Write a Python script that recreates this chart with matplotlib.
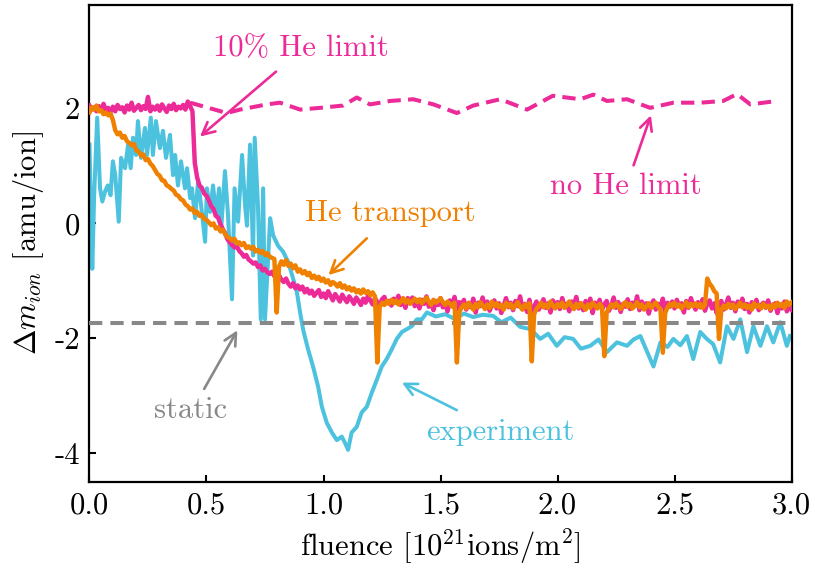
import numpy as np
import matplotlib
matplotlib.use("Agg")
import matplotlib.pyplot as plt

plt.rcParams['font.family'] = ['cmr10', 'DejaVu Serif']
plt.rcParams['mathtext.fontset'] = 'cm'
plt.rcParams['axes.unicode_minus'] = False
plt.rcParams['axes.formatter.use_mathtext'] = True

# ---------------- data ----------------
fluence_grid = np.linspace(0.0, 3.0, 301)

he_transport = [
    1.93, 2.02, 1.98, 2.05, 1.95, 1.97, 1.90, 1.93, 1.88, 1.91,
    1.80, 1.62, 1.55, 1.58, 1.49, 1.52, 1.43, 1.40, 1.36, 1.38,
    1.27, 1.25, 1.18, 1.20, 1.10, 1.12, 1.04, 1.00, 0.93, 0.86,
    0.83, 0.75, 0.74, 0.66, 0.64, 0.60, 0.57, 0.50, 0.48, 0.42,
    0.40, 0.33, 0.30, 0.24, 0.26, 0.18, 0.20, 0.13, 0.15, 0.08,
    0.06, 0.02, -0.03, 0.00, -0.09, -0.07, -0.14, -0.11, -0.19, -0.24,
    -0.26, -0.30, -0.27, -0.35, -0.33, -0.38, -0.34, -0.43, -0.40, -0.44,
    -0.41, -0.49, -0.46, -0.51, -0.48, -0.55, -0.52, -0.58, -0.60, -0.62,
    -1.55, -0.75, -0.66, -0.72, -0.64, -0.74, -0.70, -0.78, -0.73, -0.84,
    -0.80, -0.87, -0.83, -0.90, -0.86, -0.95, -0.91, -0.97, -0.93, -1.00,
    -0.96, -1.03, -0.99, -1.07, -1.02, -1.05, -1.10, -1.04, -1.12, -1.08,
    -1.15, -1.11, -1.17, -1.13, -1.20, -1.16, -1.22, -1.15, -1.21, -1.18,
    -1.25, -1.20, -1.27, -2.42, -1.45, -1.38, -1.42, -1.35, -1.40, -1.33,
    -1.39, -1.34, -1.41, -1.36, -1.30, -1.38, -1.33, -1.40, -1.35, -1.31,
    -1.37, -1.32, -1.39, -1.34, -1.29, -1.36, -1.42, -1.33, -1.38, -1.35,
    -1.30, -1.37, -1.42, -1.36, -1.40, -1.45, -1.38, -2.42, -1.55, -1.46,
    -1.41, -1.48, -1.38, -1.44, -1.50, -1.40, -1.46, -1.37, -1.43, -1.49,
    -1.41, -1.47, -1.36, -1.44, -1.39, -1.46, -1.42, -1.50, -1.38, -1.45,
    -1.40, -1.48, -1.43, -1.37, -1.45, -1.50, -1.41, -1.46, -1.39, -2.40,
    -1.58, -1.49, -1.44, -1.38, -1.46, -1.41, -1.47, -1.36, -1.43, -1.48,
    -1.40, -1.45, -1.38, -1.47, -1.42, -1.36, -1.44, -1.49, -1.40, -1.46,
    -1.39, -1.44, -1.50, -1.41, -1.47, -1.38, -1.43, -1.48, -1.40, -1.45,
    -2.31, -1.55, -1.47, -1.41, -1.46, -1.39, -1.44, -1.49, -1.42, -1.37,
    -1.45, -1.40, -1.48, -1.43, -1.37, -1.46, -1.41, -1.50, -1.44, -1.39,
    -1.47, -1.42, -1.38, -1.45, -1.49, -2.25, -1.56, -1.46, -1.40, -1.44,
    -1.38, -1.45, -1.41, -1.48, -1.43, -1.37, -1.46, -1.40, -1.44, -1.39,
    -1.45, -1.40, -1.47, -1.42, -0.96, -1.05, -1.10, -1.18, -1.22, -2.01,
    -1.50, -1.43, -1.48, -1.40, -1.46, -1.41, -1.49, -1.44, -1.38, -1.46,
    -1.41, -1.47, -1.43, -1.50, -1.39, -1.45, -1.42, -1.48, -1.40, -1.46,
    -1.43, -1.49, -1.41, -1.46, -1.38, -1.44, -1.40, -1.47, -1.36, -1.42,
    -1.38,
]

he_limit10 = [
    2.05, 1.98, 2.02, 1.95, 2.04, 1.97, 2.08, 1.96, 2.01, 1.94,
    2.03, 1.95, 2.06, 1.99, 2.02, 1.93, 2.05, 1.98, 2.10, 1.96,
    2.01, 2.06, 1.97, 2.04, 1.99, 2.20, 1.95, 2.03, 1.98, 2.05,
    1.96, 2.07, 2.00, 1.94, 2.05, 1.99, 2.08, 1.97, 2.03, 2.00,
    2.06, 1.98, 2.12, 2.04, 1.95, 1.05, 0.80, 0.66, 0.62, 0.52,
    0.48, 0.40, 0.30, 0.25, 0.13, 0.10, -0.02, -0.10, -0.18, -0.28,
    -0.33, -0.38, -0.42, -0.40, -0.48, -0.52, -0.58, -0.55, -0.63, -0.66,
    -0.70, -0.68, -0.76, -0.73, -0.82, -0.79, -0.85, -0.88, -0.84, -0.92,
    -0.95, -0.90, -0.98, -1.02, -0.96, -1.05, -1.10, -1.04, -1.13, -1.08,
    -1.15, -1.10, -1.20, -1.14, -1.22, -1.17, -1.26, -1.21, -1.16, -1.28,
    -1.22, -1.30, -1.18, -1.26, -1.34, -1.23, -1.29, -1.36, -1.24, -1.31,
    -1.37, -1.27, -1.33, -1.40, -1.29, -1.35, -1.42, -1.31, -1.38, -1.26,
    -1.34, -1.41, -1.30, -1.37, -1.44, -1.32, -1.28, -1.39, -1.35, -1.43,
    -1.31, -1.38, -1.26, -1.42, -1.34, -1.47, -1.30, -1.37, -1.29, -1.44,
    -1.36, -1.48, -1.33, -1.40, -1.27, -1.45, -1.38, -1.51, -1.35, -1.42,
    -1.30, -1.46, -1.39, -1.53, -1.34, -1.43, -1.28, -1.49, -1.37, -1.44,
    -1.33, -1.50, -1.40, -1.46, -1.31, -1.55, -1.38, -1.44, -1.29, -1.47,
    -1.36, -1.52, -1.41, -1.34, -1.48, -1.39, -1.56, -1.43, -1.30, -1.46,
    -1.38, -1.51, -1.35, -1.44, -1.27, -1.49, -1.40, -1.54, -1.33, -1.58,
    -1.45, -1.36, -1.50, -1.41, -1.32, -1.47, -1.39, -1.55, -1.34, -1.43,
    -1.37, -1.49, -1.30, -1.45, -1.40, -1.53, -1.36, -1.42, -1.28, -1.48,
    -1.39, -1.51, -1.35, -1.44, -1.31, -1.56, -1.38, -1.46, -1.33, -1.50,
    -1.41, -1.35, -1.52, -1.43, -1.29, -1.47, -1.37, -1.54, -1.40, -1.45,
    -1.32, -1.49, -1.38, -1.44, -1.27, -1.51, -1.36, -1.43, -1.39, -1.57,
    -1.42, -1.34, -1.50, -1.40, -1.46, -1.31, -1.53, -1.38, -1.45, -1.36,
    -1.48, -1.33, -1.44, -1.39, -1.55, -1.35, -1.47, -1.30, -1.42, -1.50,
    -1.37, -1.46, -1.32, -1.52, -1.40, -1.34, -1.48, -1.39, -1.56, -1.43,
    -1.35, -1.50, -1.41, -1.29, -1.47, -1.38, -1.53, -1.36, -1.44, -1.31,
    -1.49, -1.40, -1.55, -1.37, -1.45, -1.33, -1.51, -1.42, -1.38, -1.47,
    -1.34, -1.52, -1.43, -1.39, -1.56, -1.41, -1.48, -1.36, -1.53, -1.45,
    -1.50,
]

no_limit_x = [0.43, 0.587, 0.643, 0.758, 0.814, 0.90, 0.985, 1.084, 1.142,
              1.199, 1.285, 1.383, 1.47, 1.57, 1.64, 1.755, 1.87, 1.98,
              2.097, 2.153, 2.211, 2.297, 2.396, 2.495, 2.61, 2.708, 2.767,
              2.824, 2.938]
no_limit_y = [2.10, 1.92, 1.98, 2.07, 2.10, 1.98, 2.01, 2.05, 2.19,
              2.07, 2.13, 2.16, 2.07, 1.92, 2.05, 2.16, 1.98, 2.22,
              2.16, 2.24, 2.13, 2.16, 2.01, 2.10, 2.10, 2.13, 2.25,
              2.07, 2.13]

exp_x = [0.000, 0.005, 0.012, 0.020, 0.033, 0.045, 0.055, 0.066, 0.078, 0.090,
         0.100, 0.110, 0.125, 0.135, 0.152, 0.165, 0.176, 0.186, 0.199, 0.207,
         0.220, 0.237, 0.246, 0.262, 0.271, 0.284, 0.301, 0.314, 0.327, 0.344,
         0.357, 0.366, 0.378, 0.391, 0.408, 0.417, 0.430, 0.438, 0.451, 0.464,
         0.477, 0.494, 0.502, 0.515, 0.528, 0.541, 0.554, 0.562, 0.579, 0.592,
         0.609, 0.620, 0.635, 0.652, 0.665, 0.673, 0.686, 0.699, 0.706, 0.720,
         0.732, 0.742, 0.750, 0.772, 0.785, 0.806, 0.827, 0.849, 0.870, 0.886,
         0.900, 0.913, 0.934, 0.956, 0.977, 0.993, 1.014, 1.036, 1.057, 1.078,
         1.092, 1.105, 1.120, 1.142, 1.163, 1.185, 1.206, 1.228, 1.249, 1.270,
         1.292, 1.313, 1.335, 1.356, 1.377, 1.399, 1.420, 1.442, 1.480, 1.520,
         1.560, 1.600, 1.640, 1.680, 1.725, 1.760, 1.800, 1.840, 1.885, 1.926,
         1.960, 1.997, 2.030, 2.067, 2.100, 2.140, 2.175, 2.211, 2.254, 2.297,
         2.325, 2.354, 2.410, 2.440, 2.470, 2.495, 2.525, 2.553, 2.580, 2.610,
         2.638, 2.665, 2.695, 2.724, 2.752, 2.781, 2.810, 2.837, 2.867, 2.895,
         2.922, 2.952, 2.980, 2.993]
exp_y = [1.37, 0.40, -0.79, 0.50, 1.84, 0.61, 0.38, 0.55, 0.66, 0.49,
         1.08, 0.84, 0.03, 1.14, 0.96, 1.37, 0.96, 1.49, 1.19, 1.78,
         1.14, 1.66, 1.19, 1.84, 1.19, 1.78, 1.31, 1.61, 1.14, 1.54,
         0.84, 1.19, 0.66, 1.08, 0.61, 0.96, 0.44, 0.61, 0.09, 0.73,
         0.31, -0.32, 0.61, 0.20, 0.66, 0.14, 0.61, -0.14, 0.91, 0.14,
         -1.32, 0.61, 0.03, 1.19, 0.31, -0.04, 1.37, -0.56, 1.49, 0.31,
         -1.67, 0.61, -1.67, 0.09, -0.21, -0.39, -0.49, -0.67, -0.96, -1.19,
         -1.55, -1.85, -2.19, -2.50, -2.84, -3.19, -3.47, -3.64, -3.77, -3.71,
         -3.82, -3.94, -3.64, -3.54, -3.29, -3.19, -2.95, -2.72, -2.49, -2.36,
         -2.19, -2.01, -1.89, -1.84, -1.79, -1.67, -1.67, -1.55, -1.62, -1.58,
         -1.66, -1.57, -1.63, -1.59, -1.61, -1.72, -1.64, -1.80, -1.84, -2.01,
         -1.92, -2.13, -1.98, -2.01, -2.18, -2.13, -2.02, -2.24, -2.07, -2.13,
         -2.02, -1.96, -2.49, -2.07, -2.15, -2.01, -2.12, -1.96, -2.36, -1.89,
         -2.01, -2.10, -2.42, -1.79, -2.01, -1.67, -2.24, -1.79, -2.13, -1.79,
         -2.07, -1.72, -2.13, -1.96]

static_level = -1.74

y_ticks = [-4, -2, 0, 2]
y_tick_labels = ['-4', '-2', '0', '2']
x_ticks = [0.0, 0.5, 1.0, 1.5, 2.0, 2.5, 3.0]
x_tick_labels = ['0.0', '0.5', '1.0', '1.5', '2.0', '2.5', '3.0']

# ---------------- styles ----------------
C_EXP = '#4cc2de'
C_PINK = '#ec2a98'
C_ORANGE = '#f08000'
C_GRAY = '#888888'
FS = 22

fig = plt.figure(figsize=(8.15, 5.72), dpi=100)
ax = fig.add_axes([0.1098, 0.1573, 0.8614, 0.834])

ax.plot(exp_x, exp_y, color=C_EXP, lw=2.9, zorder=2, solid_joinstyle='round')
ax.axhline(static_level, color=C_GRAY, lw=2.9, dashes=(3.3, 2.0), zorder=3)
ax.plot(no_limit_x, no_limit_y, color=C_PINK, lw=2.9, dashes=(3.3, 1.8), zorder=3)
ax.plot(fluence_grid, he_limit10, color=C_PINK, lw=3.2, zorder=4, solid_joinstyle='round')
ax.plot(fluence_grid, he_transport, color=C_ORANGE, lw=3.2, zorder=5, solid_joinstyle='round')

ax.set_xlim(0, 3.0)
ax.set_ylim(-4.5, 3.8)
ax.set_xticks(x_ticks)
ax.set_xticklabels(x_tick_labels)
ax.set_yticks(y_ticks)
ax.set_yticklabels(y_tick_labels)
ax.tick_params(direction='in', length=5, width=1.5, labelsize=FS, pad=7)
for s in ax.spines.values():
    s.set_linewidth(1.6)

ax.set_xlabel(r'fluence $[10^{21}\mathrm{ions/m^2}]$', fontsize=FS, labelpad=6)
ax.set_ylabel(r'$\Delta m_{ion}$ [amu/ion]', fontsize=FS, labelpad=6)

def arrow(tip, tail, color):
    ax.annotate('', xy=tip, xytext=tail,
                arrowprops=dict(arrowstyle='->', color=color, lw=1.9,
                                mutation_scale=22, shrinkA=0, shrinkB=0),
                zorder=6)

ax.text(0.904, 3.05, '10% He limit', color=C_PINK, fontsize=FS, ha='center', va='center')
arrow((0.472, 1.51), (0.797, 2.64), C_PINK)

ax.text(1.285, 0.18, 'He transport', color=C_ORANGE, fontsize=FS, ha='center', va='center')
arrow((1.021, -0.90), (1.185, -0.26), C_ORANGE)

ax.text(2.29, 0.65, 'no He limit', color=C_PINK, fontsize=FS, ha='center', va='center')
arrow((2.399, 1.88), (2.325, 1.01), C_PINK)

ax.text(0.43, -3.26, 'static', color=C_GRAY, fontsize=FS, ha='center', va='center')
arrow((0.632, -1.86), (0.49, -2.88), C_GRAY)

ax.text(1.755, -3.63, 'experiment', color=C_EXP, fontsize=FS, ha='center', va='center')
arrow((1.335, -2.77), (1.57, -3.25), C_EXP)

fig.savefig('out.png', dpi=100)
